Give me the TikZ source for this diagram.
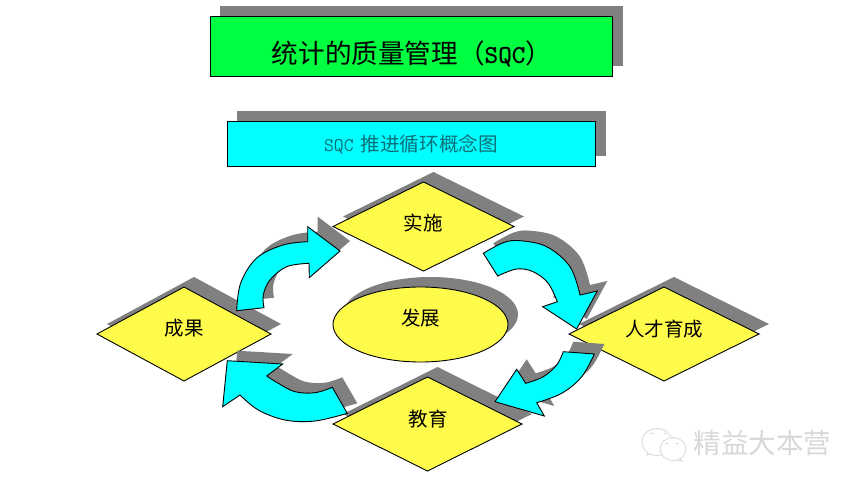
\documentclass[tikz,border=0pt]{standalone}
\usepackage{fontspec}
\usetikzlibrary{shapes.geometric,shadows}
\newfontfamily\cjk{Noto Sans CJK SC}
\definecolor{bandgreen}{HTML}{00FF40}
\definecolor{bandcyan}{HTML}{00FFFF}
\definecolor{paleyellow}{HTML}{FFFB4A}
\definecolor{shadowgray}{HTML}{808080}
\definecolor{subtext}{HTML}{0B6F78}
\definecolor{markgray}{HTML}{D8D8D8}
\tikzset{
  castshadow/.style={drop shadow={shadow xshift=10pt,shadow yshift=10pt,fill=shadowgray,opacity=1}},
  bandbox/.style={rectangle,draw=black,line width=0.9pt,inner sep=0pt,outer sep=0pt,castshadow},
  gem/.style={diamond,aspect=2,draw=black,line width=0.9pt,fill=paleyellow,inner sep=0pt,outer sep=0pt,castshadow},
  hub/.style={ellipse,draw=black,line width=0.9pt,fill=paleyellow,inner sep=0pt,outer sep=0pt,castshadow},
  labeltext/.style={font=\cjk\fontsize{19.5}{22}\selectfont,text=black,inner sep=0pt},
  bentarrow/.style={draw=black,line width=0.9pt,fill=bandcyan,line join=miter,castshadow},
  logoline/.style={draw=markgray,line width=0.8pt,fill=white}
}
\begin{document}
\begin{tikzpicture}[x=1pt,y=-1pt]
\useasboundingbox[fill=white] (0,0) rectangle (858,486);

% title bands
\node[bandbox,fill=bandgreen,minimum width=402.5pt,minimum height=60pt] (titlebox) at (411.5,46) {};
\node[inner sep=0pt,text=black] (titletext) at (412,53.5) {\cjk\fontsize{26.6}{30}\selectfont 统计的质量管理（{\fontsize{26}{30}\selectfont\ttfamily\bfseries SQC}）};
\node[bandbox,fill=bandcyan,minimum width=368.5pt,minimum height=45pt] (subbox) at (411.3,143.5) {};
\node[inner sep=0pt,text=subtext] (subtext) at (411,144.5) {{\fontsize{19.2}{22}\selectfont\ttfamily SQC}\hspace{7pt}\cjk\fontsize{19.6}{22}\selectfont 推进循环概念图};

% diamonds and hub
\node[gem,minimum width=181pt,minimum height=89pt] (shi) at (423.5,226.5) {};
\node[gem,minimum width=174pt,minimum height=94pt] (guo) at (184,334) {};
\node[gem,minimum width=190pt,minimum height=94pt] (ren) at (664,334) {};
\node[gem,minimum width=189pt,minimum height=94pt] (jiao) at (427.5,424) {};
\node[hub,minimum width=175pt,minimum height=75pt] (fa) at (420.5,324.5) {};

\node[labeltext] (shilabel) at (423,223) {实施};
\node[labeltext] (guolabel) at (184,328) {成果};
\node[labeltext] (renlabel) at (664,329) {人才育成};
\node[labeltext] (jiaolabel) at (428,419) {教育};
\node[labeltext] (falabel) at (420.5,318) {发展};

% bent block arrows
\path[bentarrow] (236.7,310.7) plot[smooth,tension=0.6] coordinates {(236.7,310.7) (240.7,283) (256.7,258) (283,245) (307.7,241.7)}
  -- (307.7,226.7) -- (340,251) -- (309.3,277.7) -- (309,263.3)
  -- plot[smooth,tension=0.6] coordinates {(309,263.3) (286.7,266.7) (270,280) (263.3,295) (264,307.7)} -- cycle;

\path[bentarrow] (483.3,253.3) plot[smooth,tension=0.6] coordinates {(483.3,253.3) (503.3,242.7) (520,240.7) (546.7,246.7) (570,266.7) (580,295)}
  -- (597.3,291) -- (576.7,329) -- (542.7,306.7) -- (557.3,301.7)
  -- plot[smooth,tension=0.6] coordinates {(557.3,301.7) (548,283) (533,271.7) (516.7,269) (497.7,276)} -- cycle;

\path[bentarrow] (594.3,354) -- (563.3,351.7)
  -- plot[smooth,tension=0.6] coordinates {(563.3,351.7) (556.7,365) (543.3,376.7) (525.7,383.3)}
  -- (516.7,369.3) -- (495,401.7) -- (544.3,416) -- (536.7,402.7)
  -- plot[smooth,tension=0.6] coordinates {(536.7,402.7) (561.7,393.3) (581.7,376.7) (594.3,354)} -- cycle;

\path[bentarrow] (347.3,413.3) -- (332.3,387.3)
  -- plot[smooth,tension=0.6] coordinates {(332.3,387.3) (315,392.7) (295,391.7) (278.3,383.3) (266.7,376)}
  -- (282.7,364) -- (227.3,360.7) -- (222.7,406.7) -- (240,395)
  -- plot[smooth,tension=0.6] coordinates {(240,395) (258.3,410) (285,420) (315,421) (347.3,413.3)} -- cycle;

% watermark
\draw[logoline] (657,442) ellipse [x radius=15,y radius=13.5];
\draw[logoline] (648,453) -- (647,455) -- (652,454);
\draw[logoline] (673,449) ellipse [x radius=13,y radius=11.5];
\draw[logoline] (680,459) -- (682,461) -- (676,460);
\foreach \ex/\ey in {652/433,665/433,667/443,677/443}
  \draw[markgray,line width=0.8pt] (\ex-1.5,\ey+1) -- (\ex,\ey) -- (\ex+1.5,\ey+1);
\node[inner sep=0pt,text=markgray] (mark) at (762.5,443) {\cjk\fontsize{27.5}{30}\selectfont 精益大本营};
\end{tikzpicture}
\end{document}
